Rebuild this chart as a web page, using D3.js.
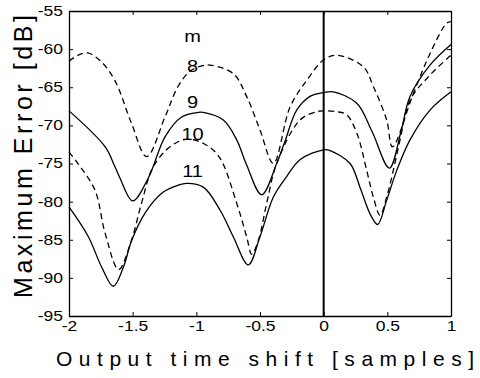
<!DOCTYPE html>
<html>
<head>
<meta charset="utf-8">
<script src="https://d3js.org/d3.v7.min.js"></script>
<style>
    body { margin: 0; background: #fff; }
    text { font-family: "Liberation Sans", Arial, sans-serif; fill: #000; }
</style>
</head>
<body>
<script>
'use strict';

// curve data: [shift, dB]
const m8 = [[-2, -61.6], [-1.93, -60.8], [-1.853, -60.5], [-1.75, -61.6], [-1.64, -64.1], [-1.51, -69.7],
    [-1.39, -74.1], [-1.246, -68.9], [-1.144, -64.9], [-1.05, -62.9], [-0.958, -62.2], [-0.893, -62.1],
    [-0.71, -63.2], [-0.605, -66.2], [-0.5, -70.6], [-0.395, -75.0], [-0.264, -67.6], [-0.133, -64.1],
    [0, -61.4], [0.1, -60.8], [0.311, -62.3], [0.39, -64.9], [0.495, -69.3], [0.54, -72.8],
    [0.705, -65.8], [0.835, -60.6], [0.966, -56.6], [1, -56.4]];

const m9 = [[-2, -68.1], [-1.717, -72.8], [-1.64, -75.4], [-1.6, -76.9], [-1.5, -79.9], [-1.377, -76.9],
    [-1.246, -71.5], [-1.115, -68.9], [-0.985, -68.3], [-0.945, -68.3], [-0.788, -69.3], [-0.683, -71.9],
    [-0.605, -75.2], [-0.487, -79.1], [-0.369, -75.0], [-0.3, -71.9], [-0.212, -68.0], [-0.107, -66.2],
    [0, -65.7], [0.076, -65.6], [0.26, -67.1], [0.38, -70.8], [0.516, -75.6], [0.61, -70.6],
    [0.678, -66.2], [0.835, -62.1], [1, -59.4]];

const m10 = [[-2, -73.5], [-1.93, -75.0], [-1.796, -78.5], [-1.717, -84.1], [-1.61, -88.9], [-1.51, -85.1],
    [-1.43, -80.2], [-1.338, -75.4], [-1.19, -72.6], [-1.06, -71.8], [-0.919, -72.6], [-0.814, -74.3],
    [-0.683, -80.2], [-0.605, -84.6], [-0.565, -86.9], [-0.513, -85.1], [-0.447, -80.2],
    [-0.369, -75.0], [-0.186, -69.3], [-0.055, -68.2], [0, -68.1], [0.1, -68.2], [0.18, -68.6],
    [0.26, -71.0], [0.338, -75.9], [0.39, -79.4], [0.443, -81.8], [0.495, -79.4], [0.547, -75.9],
    [0.6, -71.9], [0.678, -66.7], [0.835, -63.4], [1, -60.8]];

const m11 = [[-2, -80.7], [-1.848, -84.6], [-1.743, -88.6], [-1.652, -91.1], [-1.573, -88.6], [-1.508, -85.1],
    [-1.403, -81.5], [-1.272, -78.9], [-1.168, -78.0], [-1.076, -77.6], [-0.945, -78.1], [-0.814, -81.1],
    [-0.71, -84.6], [-0.592, -88.3], [-0.5, -84.6], [-0.395, -79.4], [-0.29, -76.7], [-0.186, -74.5],
    [0, -73.2], [0.05, -73.3], [0.207, -75.0], [0.285, -78.1], [0.364, -81.6], [0.424, -83.0],
    [0.495, -79.8], [0.574, -75.9], [0.678, -71.9], [0.835, -68.0], [1, -65.6]];

const xTicks = [-2, -1.5, -1, -0.5, 0, 0.5, 1];
const yTicks = [-55, -60, -65, -70, -75, -80, -85, -90, -95];

// in-plot labels (text, shift, dB of baseline)
const labelText = ["m", "8", "9", "10", "11"];
const labelX = -1.03;
const labelY = [-59.0, -62.95, -67.7, -71.9, -76.75];

const measurements = {
    width: 480,
    height: 378,
    left: 69,
    right: 451,
    top: 11,
    bottom: 316,
    stretch: 1.25   // tick and curve labels are wide in the original
}

let svg = d3.select("body").append("svg")
    .attr("width", measurements.width)
    .attr("height", measurements.height);

let x = d3.scaleLinear()
    .domain([-2, 1])
    .range([measurements.left, measurements.right]);

let y = d3.scaleLinear()
    .domain([-95, -55])
    .range([measurements.bottom, measurements.top]);

drawAxes();
drawCurves();

function drawAxes() {
    const s = measurements.stretch;
    let left = svg.append("g")
        .attr("transform", "translate(" + measurements.left + ",0)")
        .call(d3.axisLeft(y).tickValues(yTicks).tickSizeInner(-4).tickSizeOuter(0).tickPadding(6));
    let bottom = svg.append("g")
        .attr("transform", "translate(0," + measurements.bottom + ")")
        .call(d3.axisBottom(x).tickValues(xTicks).tickSizeInner(-4).tickSizeOuter(0).tickPadding(5)
            .tickFormat(d3.format("")));
    svg.append("g")
        .attr("transform", "translate(" + measurements.right + ",0)")
        .call(d3.axisRight(y).tickValues(yTicks).tickSizeInner(-4).tickSizeOuter(0).tickFormat(""));
    svg.append("g")
        .attr("transform", "translate(0," + measurements.top + ")")
        .call(d3.axisTop(x).tickValues(xTicks).tickSizeInner(-4).tickSizeOuter(0).tickFormat(""));

    svg.selectAll(".domain").attr("stroke", "#000").attr("stroke-width", 1.3);
    svg.selectAll(".tick line").attr("stroke", "#000");
    left.selectAll("text")
        .attr("font-size", "14px").attr("font-family", null)
        .attr("x", -6 / s)
        .attr("transform", "scale(" + s + ",1)");
    bottom.selectAll("text")
        .attr("font-size", "14px").attr("font-family", null)
        .attr("transform", "scale(" + s + ",1)");
    // minus signs as plain hyphens like the original
    svg.selectAll(".tick text").text(function () { return this.textContent.replace("\u2212", "-"); });

    // zero line
    svg.append("line")
        .attr("x1", x(0)).attr("x2", x(0))
        .attr("y1", y(-55)).attr("y2", y(-95))
        .attr("stroke", "#000")
        .attr("stroke-width", 2);

    svg.append("text")
        .attr("transform", "translate(32,298) rotate(-90)")
        .attr("font-size", "25px")
        .attr("textLength", 283)
        .attr("lengthAdjust", "spacing")
        .text("Maximum Error [dB]");

    svg.append("text")
        .attr("transform", "translate(56,366)")
        .attr("font-size", "21px")
        .attr("textLength", 418)
        .attr("lengthAdjust", "spacing")
        .text("Output time shift [samples]");
}

function drawCurves() {
    const s = measurements.stretch;
    let line = d3.line()
        .x(d => x(d[0]))
        .y(d => y(d[1]))
        .curve(d3.curveCatmullRom.alpha(0.5));

    let series = [
        { pts: m8, dash: "6,4" },
        { pts: m9, dash: null },
        { pts: m10, dash: "6,4" },
        { pts: m11, dash: null }
    ];

    svg.selectAll(".curve")
        .data(series)
        .enter()
        .append("path")
        .attr("class", "curve")
        .attr("d", d => line(d.pts))
        .attr("fill", "none")
        .attr("stroke", "#000")
        .attr("stroke-width", 1.3)
        .attr("stroke-dasharray", d => d.dash);

    svg.selectAll(".lbl")
        .data(labelText)
        .enter()
        .append("text")
        .attr("class", "lbl")
        .attr("transform", (d, i) => "translate(" + x(labelX) + "," + y(labelY[i]) + ") scale(" + s + ",1)")
        .attr("text-anchor", "middle")
        .attr("font-size", "16px")
        .text(d => d);
}
</script>
</body>
</html>
